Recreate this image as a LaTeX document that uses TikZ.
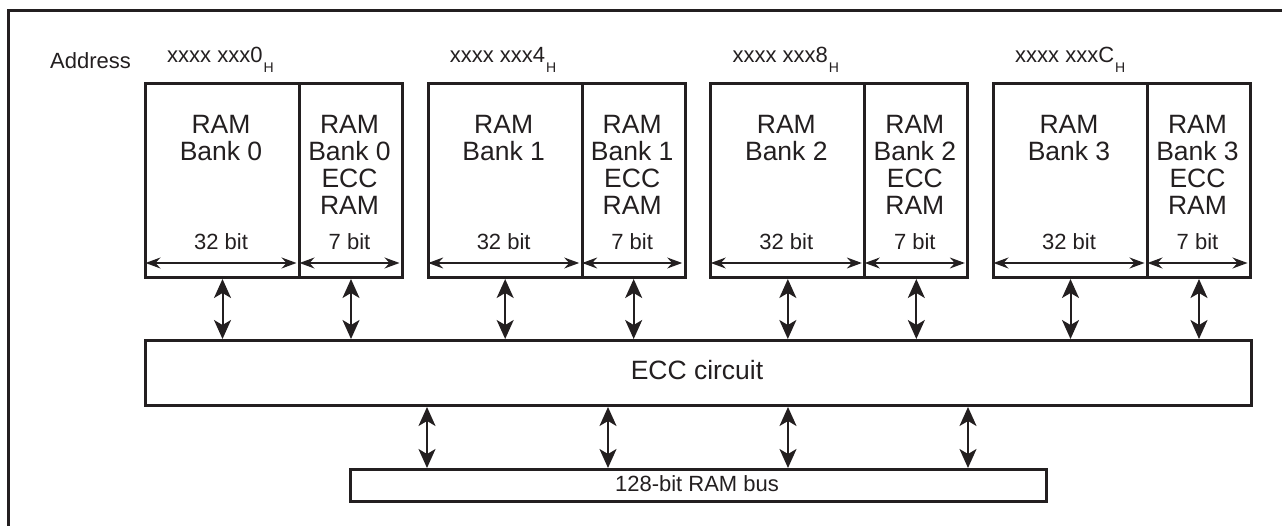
\documentclass[tikz,border=0pt]{standalone}
\usepackage{fontspec}
\setmainfont{Liberation Sans}
\usetikzlibrary{arrows.meta,calc}
\definecolor{ink}{HTML}{231F20}
\newcommand\hsub[1]{\kern1pt\raisebox{-10pt}{\fontsize{14}{14}\selectfont #1}}
\begin{document}
\begin{tikzpicture}[x=1pt,y=-1pt,line join=miter,
  box/.style={draw=ink,line width=3pt,inner sep=0pt,anchor=north west},
  bigarrow/.style={draw=ink,line width=2pt,
    {Stealth[length=19pt,width=17pt,inset=5pt]}-{Stealth[length=19pt,width=17pt,inset=5pt]}},
  dimarrow/.style={draw=ink,line width=1.3pt,shorten <=1.5pt,shorten >=1.5pt,
    {Stealth[length=15pt,width=11pt,inset=5pt]}-{Stealth[length=15pt,width=11pt,inset=5pt]}},
  banktxt/.style={text=ink,inner sep=0pt,align=center,anchor=north,
    font=\fontsize{26.5}{27}\selectfont},
  bittxt/.style={text=ink,inner sep=0pt,anchor=base,font=\fontsize{22}{24}\selectfont},
  addrtxt/.style={text=ink,inner sep=0pt,anchor=base west,font=\fontsize{22}{24}\selectfont},
  frameline/.style={draw=ink,line width=3pt}
]
\useasboundingbox (0,0) rectangle (1282,526);
% outer frame (right and bottom edges lie outside the view)
\coordinate (fbl) at (8,530);
\coordinate (ftl) at (8,11);
\coordinate (ftr) at (1286,11);
\draw[frameline] (fbl) -- (ftl) -- (ftr);

\node[addrtxt] (addr) at (50,69) {Address};

\node[box,minimum width=1106pt,minimum height=65pt] (ecc) at (144,339) {};
\node[text=ink,inner sep=0pt,anchor=base,font=\fontsize{26.5}{30}\selectfont] (ecctxt) at (697,380) {ECC circuit};

\node[box,minimum width=696pt,minimum height=32pt] (bus) at (349,468) {};
\node[text=ink,inner sep=0pt,anchor=base,font=\fontsize{22}{24}\selectfont] (bustxt) at (697,491) {128-bit RAM bus};

\foreach \i/\x/\a in {0/144/0,1/426.67/4,2/709.33/8,3/992/C}{
  \node[box,minimum width=154pt,minimum height=194pt] (m\i) at (\x,82) {};
  \node[box,minimum width=103pt,minimum height=194pt] (e\i) at (\x+154,82) {};
  \node[banktxt] (mt\i) at (\x+77,115) {RAM\\Bank \i};
  \node[banktxt] (et\i) at (\x+205.5,115) {RAM\\Bank \i\\ECC\\RAM};
  \node[bittxt] (mb\i) at (\x+77,250) {32 bit};
  \node[bittxt] (eb\i) at (\x+205.5,250) {7 bit};
  \node[addrtxt] (a\i) at (\x+23,63) {xxxx xxx\a\hsub{H}};
  \coordinate (ml\i) at (\x,263);
  \coordinate (mr\i) at (\x+154,263);
  \coordinate (er\i) at (\x+257,263);
  \draw[dimarrow] (ml\i) -- (mr\i);
  \draw[dimarrow] (mr\i) -- (er\i);
  \draw[bigarrow] (m\i.south) -- (m\i.south |- ecc.north);
  \draw[bigarrow] (e\i.south) -- (e\i.south |- ecc.north);
}
\foreach \k/\x in {1/427,2/608,3/788,4/968}{
  \coordinate (p\k) at (\x,468);
  \draw[bigarrow] (p\k |- ecc.south) -- (p\k);
}
\end{tikzpicture}
\end{document}
